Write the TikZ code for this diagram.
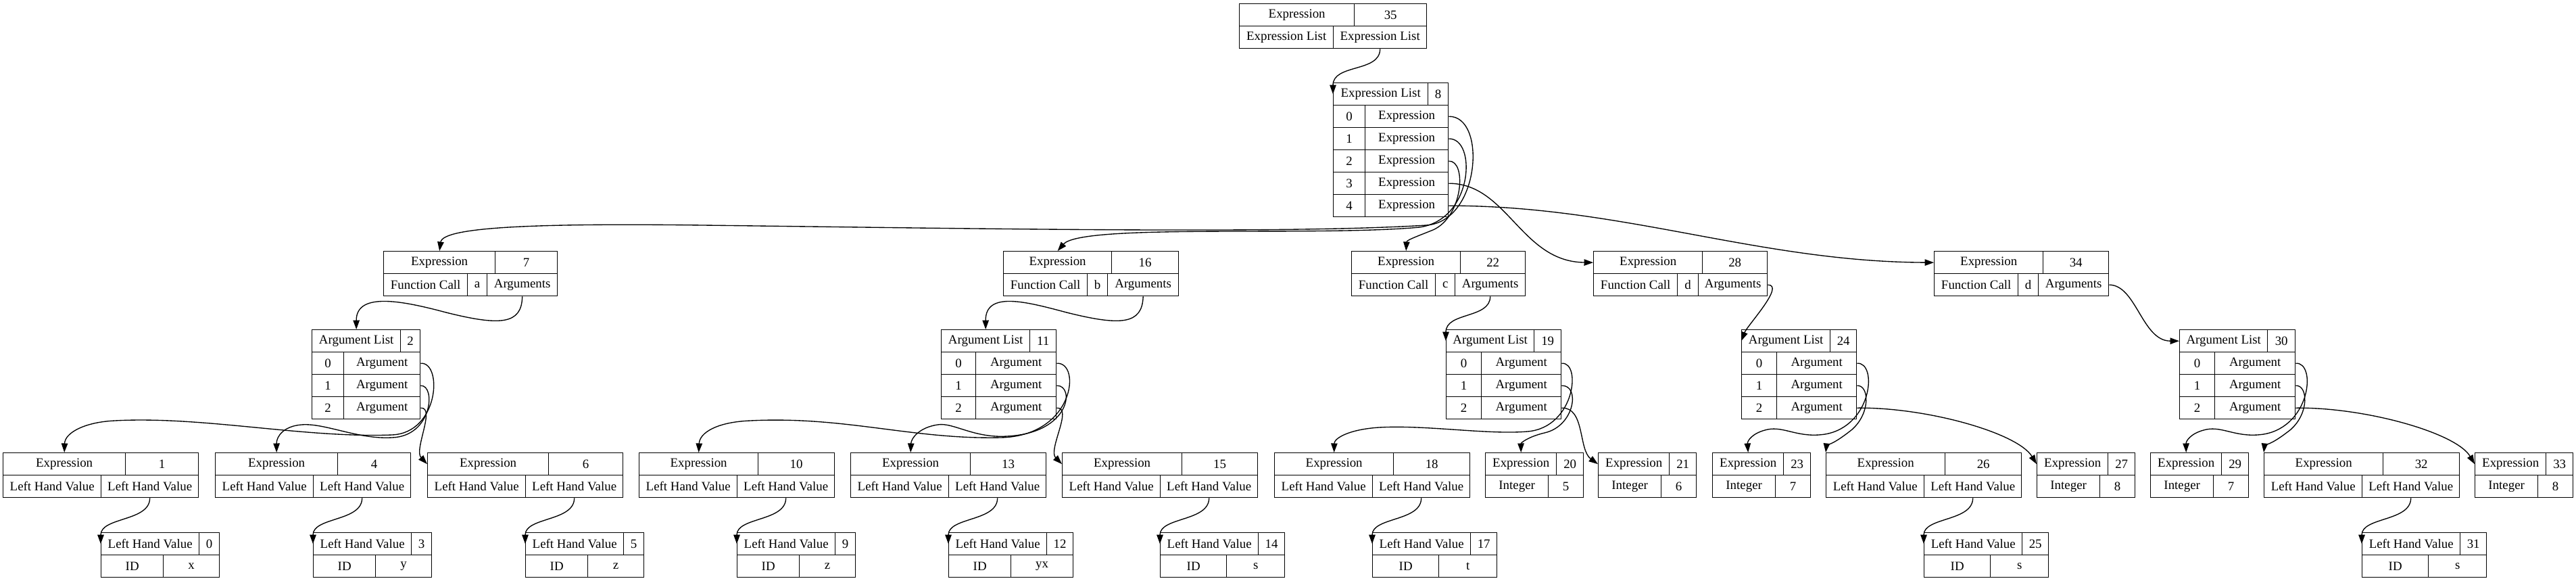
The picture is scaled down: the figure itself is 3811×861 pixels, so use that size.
\documentclass[tikz,border=0pt]{standalone}
\usepackage{fontspec}
\setmainfont{Liberation Serif}
\usetikzlibrary{arrows.meta}

\begin{document}
\begin{tikzpicture}[x=0.7407pt, y=-0.7407pt, line width=1pt]
	\useasboundingbox (0,0) rectangle (3811,861);
	\tikzset {->, >={Triangle[length=10pt, width=7pt]},
		cell/.style={draw, rectangle, anchor=north west, inner sep=0pt, minimum height=33*0.7407pt, font=\fontsize{14}{16}\selectfont},
		wd/.style={minimum width=#1*0.7407pt}}

	% root expression
	\node[cell, wd=170] (e35t) at (1833,5) {Expression};
	\node[cell, wd=107] (e35n) at (2003,5) {35};
	\node[cell, wd=139] (e35l) at (1833,38) {Expression List};
	\node[cell, wd=138] (e35r) at (1972,38) {Expression List};

	% expression list
	\node[cell, wd=140] (l8t) at (1972,122) {Expression List};
	\node[cell, wd=30] (l8n) at (2112,122) {8};
	\foreach \i in {0,...,4} {
		\node[cell, wd=47] (l8i\i) at (1972,155+33*\i) {\i};
		\node[cell, wd=123] (l8r\i) at (2019,155+33*\i) {Expression};
	}

	% function calls
	\node[cell, wd=165] (e7t) at (567,371) {Expression};
	\node[cell, wd=92] (e7n) at (732,371) {7};
	\node[cell, wd=124] (e7f) at (567,404) {Function Call};
	\node[cell, wd=29] (e7i) at (691,404) {a};
	\node[cell, wd=104] (e7g) at (720,404) {Arguments};

	\node[cell, wd=160] (e16t) at (1484,371) {Expression};
	\node[cell, wd=99] (e16n) at (1644,371) {16};
	\node[cell, wd=124] (e16f) at (1484,404) {Function Call};
	\node[cell, wd=30] (e16i) at (1608,404) {b};
	\node[cell, wd=105] (e16g) at (1638,404) {Arguments};

	\node[cell, wd=161] (e22t) at (1999,371) {Expression};
	\node[cell, wd=96] (e22n) at (2160,371) {22};
	\node[cell, wd=124] (e22f) at (1999,404) {Function Call};
	\node[cell, wd=29] (e22i) at (2123,404) {c};
	\node[cell, wd=104] (e22g) at (2152,404) {Arguments};

	\node[cell, wd=161] (e28t) at (2357,371) {Expression};
	\node[cell, wd=96] (e28n) at (2518,371) {28};
	\node[cell, wd=124] (e28f) at (2357,404) {Function Call};
	\node[cell, wd=31] (e28i) at (2481,404) {d};
	\node[cell, wd=102] (e28g) at (2512,404) {Arguments};

	\node[cell, wd=161] (e34t) at (2861,371) {Expression};
	\node[cell, wd=97] (e34n) at (3022,371) {34};
	\node[cell, wd=124] (e34f) at (2861,404) {Function Call};
	\node[cell, wd=30] (e34i) at (2985,404) {d};
	\node[cell, wd=104] (e34g) at (3015,404) {Arguments};

	% argument lists
	\node[cell, wd=131] (a2t) at (461,487) {Argument List};
	\node[cell, wd=29] (a2n) at (592,487) {2};
	\foreach \i in {0,1,2} {
		\node[cell, wd=47] (a2i\i) at (461,520+33*\i) {\i};
		\node[cell, wd=113] (a2r\i) at (508,520+33*\i) {Argument};
	}
	\node[cell, wd=131] (a11t) at (1392,487) {Argument List};
	\node[cell, wd=39] (a11n) at (1523,487) {11};
	\foreach \i in {0,1,2} {
		\node[cell, wd=51] (a11i\i) at (1392,520+33*\i) {\i};
		\node[cell, wd=119] (a11r\i) at (1443,520+33*\i) {Argument};
	}
	\node[cell, wd=130] (a19t) at (2139,487) {Argument List};
	\node[cell, wd=40] (a19n) at (2269,487) {19};
	\foreach \i in {0,1,2} {
		\node[cell, wd=52] (a19i\i) at (2139,520+33*\i) {\i};
		\node[cell, wd=118] (a19r\i) at (2191,520+33*\i) {Argument};
	}
	\node[cell, wd=131] (a24t) at (2576,487) {Argument List};
	\node[cell, wd=39] (a24n) at (2707,487) {24};
	\foreach \i in {0,1,2} {
		\node[cell, wd=52] (a24i\i) at (2576,520+33*\i) {\i};
		\node[cell, wd=118] (a24r\i) at (2628,520+33*\i) {Argument};
	}
	\node[cell, wd=130] (a30t) at (3224,487) {Argument List};
	\node[cell, wd=41] (a30n) at (3354,487) {30};
	\foreach \i in {0,1,2} {
		\node[cell, wd=52] (a30i\i) at (3224,520+33*\i) {\i};
		\node[cell, wd=119] (a30r\i) at (3276,520+33*\i) {Argument};
	}

	% argument expressions
	\node[cell, wd=181] (e1t) at (4,669) {Expression};
	\node[cell, wd=108] (e1n) at (185,669) {1};
	\node[cell, wd=145] (e1l) at (4,702) {Left Hand Value};
	\node[cell, wd=144] (e1r) at (149,702) {Left Hand Value};

	\node[cell, wd=181] (e4t) at (318,669) {Expression};
	\node[cell, wd=108] (e4n) at (499,669) {4};
	\node[cell, wd=145] (e4l) at (318,702) {Left Hand Value};
	\node[cell, wd=144] (e4r) at (463,702) {Left Hand Value};

	\node[cell, wd=179] (e6t) at (632,669) {Expression};
	\node[cell, wd=110] (e6n) at (811,669) {6};
	\node[cell, wd=145] (e6l) at (632,702) {Left Hand Value};
	\node[cell, wd=144] (e6r) at (777,702) {Left Hand Value};

	\node[cell, wd=176] (e10t) at (945,669) {Expression};
	\node[cell, wd=113] (e10n) at (1121,669) {10};
	\node[cell, wd=145] (e10l) at (945,702) {Left Hand Value};
	\node[cell, wd=144] (e10r) at (1090,702) {Left Hand Value};

	\node[cell, wd=177] (e13t) at (1258,669) {Expression};
	\node[cell, wd=112] (e13n) at (1435,669) {13};
	\node[cell, wd=145] (e13l) at (1258,702) {Left Hand Value};
	\node[cell, wd=144] (e13r) at (1403,702) {Left Hand Value};

	\node[cell, wd=177] (e15t) at (1571,669) {Expression};
	\node[cell, wd=112] (e15n) at (1748,669) {15};
	\node[cell, wd=145] (e15l) at (1571,702) {Left Hand Value};
	\node[cell, wd=144] (e15r) at (1716,702) {Left Hand Value};

	\node[cell, wd=176] (e18t) at (1885,669) {Expression};
	\node[cell, wd=113] (e18n) at (2061,669) {18};
	\node[cell, wd=145] (e18l) at (1885,702) {Left Hand Value};
	\node[cell, wd=144] (e18r) at (2030,702) {Left Hand Value};

	\node[cell, wd=105] (e20t) at (2197,669) {Expression};
	\node[cell, wd=40] (e20n) at (2302,669) {20};
	\node[cell, wd=93] (e20l) at (2197,702) {Integer};
	\node[cell, wd=52] (e20v) at (2290,702) {5};

	\node[cell, wd=105] (e21t) at (2364,669) {Expression};
	\node[cell, wd=40] (e21n) at (2469,669) {21};
	\node[cell, wd=93] (e21l) at (2364,702) {Integer};
	\node[cell, wd=52] (e21v) at (2457,702) {6};

	\node[cell, wd=105] (e23t) at (2533,669) {Expression};
	\node[cell, wd=40] (e23n) at (2638,669) {23};
	\node[cell, wd=93] (e23l) at (2533,702) {Integer};
	\node[cell, wd=52] (e23v) at (2626,702) {7};

	\node[cell, wd=176] (e26t) at (2701,669) {Expression};
	\node[cell, wd=113] (e26n) at (2877,669) {26};
	\node[cell, wd=145] (e26l) at (2701,702) {Left Hand Value};
	\node[cell, wd=144] (e26r) at (2846,702) {Left Hand Value};

	\node[cell, wd=105] (e27t) at (3013,669) {Expression};
	\node[cell, wd=40] (e27n) at (3118,669) {27};
	\node[cell, wd=93] (e27l) at (3013,702) {Integer};
	\node[cell, wd=52] (e27v) at (3106,702) {8};

	\node[cell, wd=105] (e29t) at (3181,669) {Expression};
	\node[cell, wd=40] (e29n) at (3286,669) {29};
	\node[cell, wd=93] (e29l) at (3181,702) {Integer};
	\node[cell, wd=52] (e29v) at (3274,702) {7};

	\node[cell, wd=176] (e32t) at (3349,669) {Expression};
	\node[cell, wd=113] (e32n) at (3525,669) {32};
	\node[cell, wd=145] (e32l) at (3349,702) {Left Hand Value};
	\node[cell, wd=144] (e32r) at (3494,702) {Left Hand Value};

	\node[cell, wd=105] (e33t) at (3661,669) {Expression};
	\node[cell, wd=40] (e33n) at (3766,669) {33};
	\node[cell, wd=93] (e33l) at (3661,702) {Integer};
	\node[cell, wd=52] (e33v) at (3754,702) {8};

	% left hand values
	\node[cell, wd=145] (v0t) at (149,787) {Left Hand Value};
	\node[cell, wd=30] (v0n) at (294,787) {0};
	\node[cell, wd=92] (v0l) at (149,820) {ID};
	\node[cell, wd=83] (v0v) at (241,820) {x};

	\node[cell, wd=145] (v3t) at (463,787) {Left Hand Value};
	\node[cell, wd=30] (v3n) at (608,787) {3};
	\node[cell, wd=92] (v3l) at (463,820) {ID};
	\node[cell, wd=83] (v3v) at (555,820) {y};

	\node[cell, wd=145] (v5t) at (777,787) {Left Hand Value};
	\node[cell, wd=30] (v5n) at (922,787) {5};
	\node[cell, wd=92] (v5l) at (777,820) {ID};
	\node[cell, wd=83] (v5v) at (869,820) {z};

	\node[cell, wd=145] (v9t) at (1090,787) {Left Hand Value};
	\node[cell, wd=30] (v9n) at (1235,787) {9};
	\node[cell, wd=92] (v9l) at (1090,820) {ID};
	\node[cell, wd=83] (v9v) at (1182,820) {z};

	\node[cell, wd=145] (v12t) at (1403,787) {Left Hand Value};
	\node[cell, wd=39] (v12n) at (1548,787) {12};
	\node[cell, wd=92] (v12l) at (1403,820) {ID};
	\node[cell, wd=92] (v12v) at (1495,820) {yx};

	\node[cell, wd=145] (v14t) at (1716,787) {Left Hand Value};
	\node[cell, wd=39] (v14n) at (1861,787) {14};
	\node[cell, wd=98] (v14l) at (1716,820) {ID};
	\node[cell, wd=86] (v14v) at (1814,820) {s};

	\node[cell, wd=145] (v17t) at (2030,787) {Left Hand Value};
	\node[cell, wd=39] (v17n) at (2175,787) {17};
	\node[cell, wd=98] (v17l) at (2030,820) {ID};
	\node[cell, wd=86] (v17v) at (2128,820) {t};

	\node[cell, wd=145] (v25t) at (2846,787) {Left Hand Value};
	\node[cell, wd=39] (v25n) at (2991,787) {25};
	\node[cell, wd=98] (v25l) at (2846,820) {ID};
	\node[cell, wd=86] (v25v) at (2944,820) {s};

	\node[cell, wd=145] (v31t) at (3494,787) {Left Hand Value};
	\node[cell, wd=39] (v31n) at (3639,787) {31};
	\node[cell, wd=98] (v31l) at (3494,820) {ID};
	\node[cell, wd=86] (v31v) at (3592,820) {s};

	% root to list
	\draw (e35r.south) .. controls +(0,35) and +(0,-45) .. (l8t.west);

	% list items to calls
	\draw (l8r0.east) .. controls (2200,171) and (2190,328) .. (2110,333) .. controls (1900,346) and (1450,338) .. (1040,333) .. controls (800,330) and (655,335) .. (e7t.north);
	\draw (l8r1.east) .. controls (2185,204) and (2180,325) .. (2100,336) .. controls (1950,350) and (1600,330) .. (e16t.north);
	\draw (l8r2.east) .. controls (2170,237) and (2165,320) .. (2120,340) .. controls (2095,350) and (2081,355) .. (e22t.north);
	\draw (l8r3.east) .. controls (2230,271) and (2250,387) .. (e28t.west);
	\draw (l8r4.east) .. controls (2400,304) and (2600,387) .. (e34t.west);

	% calls to argument lists
	\draw (e7g.south) .. controls (772,480) and (740,482) .. (660,462) .. controls (600,446) and (527,430) .. (a2t.north);
	\draw (e16g.south) .. controls (1690,480) and (1658,482) .. (1578,462) .. controls (1518,446) and (1458,430) .. (a11t.north);
	\draw (e22g.south) .. controls +(0,33) and +(0,-43) .. (a19t.west);
	\draw (e28g.east) .. controls +(26,0) and +(9,-23) .. (a24t.west);
	\draw (e34g.east) .. controls +(40,0) and +(-55,0) .. (a30t.west);

	% arguments
	\draw (a2r0.east) .. controls (655,535) and (650,640) .. (580,643) .. controls (450,648) and (300,615) .. (170,622) .. controls (125,624) and (96,640) .. (e1t.north);
	\draw (a2r1.east) .. controls (645,569) and (640,645) .. (580,647) .. controls (530,650) and (480,625) .. (446,628) .. controls (420,630) and (409,645) .. (e4t.north);
	\draw (a2r2.east) .. controls (645,602) and (612,665) .. (e6t.west);
	\draw (a11r0.east) .. controls (1600,535) and (1590,645) .. (1480,647) .. controls (1350,650) and (1250,615) .. (1110,622) .. controls (1060,624) and (1035,640) .. (e10t.north);
	\draw (a11r1.east) .. controls (1590,569) and (1585,640) .. (1490,645) .. controls (1440,648) and (1410,624) .. (1387,628) .. controls (1360,632) and (1348,648) .. (e13t.north);
	\draw (a11r2.east) .. controls (1588,602) and (1550,665) .. (e15t.west);
	\draw (a19r0.east) .. controls (2340,535) and (2330,632) .. (2260,638) .. controls (2200,643) and (2110,628) .. (2040,632) .. controls (1995,635) and (1974,648) .. (e18t.north);
	\draw (a19r1.east) .. controls (2338,569) and (2330,630) .. (2285,640) .. controls (2260,646) and (2250,655) .. (e20t.north);
	\draw (a19r2.east) .. controls (2345,602) and (2335,665) .. (e21t.west);
	\draw (a24r0.east) .. controls (2778,535) and (2770,630) .. (2700,642) .. controls (2660,648) and (2640,630) .. (2615,635) .. controls (2592,640) and (2585,652) .. (e23t.north);
	\draw (a24r1.east) .. controls (2765,569) and (2768,610) .. (2740,635) .. controls (2715,655) and (2702,660) .. (e26t.north west);
	\draw (a24r2.east) .. controls (2850,602) and (2985,640) .. (e27t.west);
	\draw (a30r0.east) .. controls (3427,535) and (3419,630) .. (3349,642) .. controls (3309,648) and (3289,630) .. (3264,635) .. controls (3241,640) and (3234,652) .. (e29t.north);
	\draw (a30r1.east) .. controls (3414,569) and (3417,610) .. (3389,635) .. controls (3364,655) and (3350,660) .. (e32t.north west);
	\draw (a30r2.east) .. controls (3499,602) and (3634,640) .. (e33t.west);

	% left hand values
	\draw (e1r.south) .. controls +(0,35) and +(0,-40) .. (v0t.west);
	\draw (e4r.south) .. controls +(0,35) and +(0,-40) .. (v3t.west);
	\draw (e6r.south) .. controls +(0,35) and +(0,-40) .. (v5t.west);
	\draw (e10r.south) .. controls +(0,35) and +(0,-40) .. (v9t.west);
	\draw (e13r.south) .. controls +(0,35) and +(0,-40) .. (v12t.west);
	\draw (e15r.south) .. controls +(0,35) and +(0,-40) .. (v14t.west);
	\draw (e18r.south) .. controls +(0,35) and +(0,-40) .. (v17t.west);
	\draw (e26r.south) .. controls +(0,35) and +(0,-40) .. (v25t.west);
	\draw (e32r.south) .. controls +(0,35) and +(0,-40) .. (v31t.west);
\end{tikzpicture}
\end{document}
